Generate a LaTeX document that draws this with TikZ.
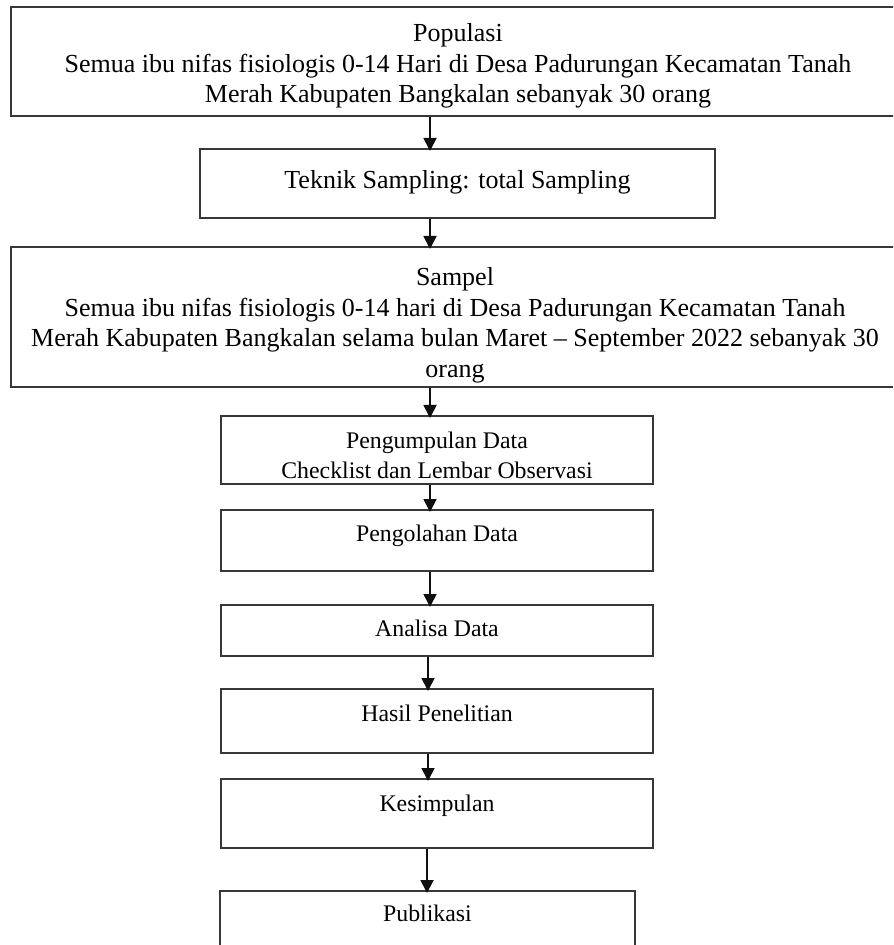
\documentclass[tikz,border=0pt]{standalone}
\usepackage{fontspec}
\setmainfont{Liberation Serif}
\usetikzlibrary{arrows.meta}
\definecolor{boxLine}{RGB}{55,55,55}
\definecolor{arrowInk}{RGB}{15,15,15}
\newcommand{\bigtxt}{\fontsize{13}{15.3}\selectfont}
\newcommand{\smalltxt}{\fontsize{11.9}{15}\selectfont}

\begin{document}
\begin{tikzpicture}[x=0.5pt,y=-0.5pt,
  flowbox/.style={draw=boxLine,line width=1pt,inner sep=0pt,fill=white},
  flowtext/.style={anchor=north,align=center,inner sep=0pt},
  flowarrow/.style={draw=arrowInk,line width=0.9pt,shorten >=-1.5pt,-{Triangle[length=6.5pt,width=6.5pt]}}]
  \useasboundingbox (0,0) rectangle (893,945);
  \clip (0,0) rectangle (893,945);
  \fill[white] (0,0) rectangle (893,945);
  % boxes: name/left/top/right/bottom in px
  \foreach \nm/\xa/\ya/\xb/\yb in {pop/11/7/905/116,tek/200/149/715/218,sam/11/247/899/387,
      kum/221/416/653/484,olah/221/510/653/571,ana/221/605/653/656,
      has/221/689/653/753,kes/221/779/653/848,pub/220/891/635/965}{
    \pgfmathsetmacro{\cx}{(\xa+\xb)/2}
    \pgfmathsetmacro{\cy}{(\ya+\yb)/2}
    \pgfmathsetmacro{\bw}{(\xb-\xa)/2}
    \pgfmathsetmacro{\bh}{(\yb-\ya)/2}
    \node[flowbox,minimum width=\bw pt,minimum height=\bh pt] (\nm) at (\cx,\cy) {};
  }
  \node[flowtext,font=\bigtxt] (pop-t) at ([yshift=-8.5pt]pop.north) {Populasi\\Semua ibu nifas fisiologis 0-14 Hari di Desa Padurungan Kecamatan Tanah\\Merah Kabupaten Bangkalan sebanyak 30 orang};
  \node[flowtext,font=\bigtxt] (tek-t) at ([yshift=-11pt]tek.north) {Teknik Sampling: total Sampling};
  \node[flowtext,font=\bigtxt] (sam-t) at ([yshift=-10.5pt]sam.north) {Sampel\\Semua ibu nifas fisiologis 0-14 hari di Desa Padurungan Kecamatan Tanah\\Merah Kabupaten Bangkalan selama bulan Maret – September 2022 sebanyak 30\\orang};
  \node[flowtext,font=\smalltxt] (kum-t) at ([yshift=-8.5pt]kum.north) {Pengumpulan Data\\Checklist dan Lembar Observasi};
  \node[flowtext,font=\smalltxt] (olah-t) at ([yshift=-8pt]olah.north) {Pengolahan Data};
  \node[flowtext,font=\smalltxt] (ana-t) at ([yshift=-8pt]ana.north) {Analisa Data};
  \node[flowtext,font=\smalltxt] (has-t) at ([yshift=-8.5pt]has.north) {Hasil Penelitian};
  \node[flowtext,font=\smalltxt] (kes-t) at ([yshift=-8.5pt]kes.north) {Kesimpulan};
  \node[flowtext,font=\smalltxt] (pub-t) at ([yshift=-7.5pt]pub.north) {Publikasi};
  % connectors
  \foreach \a/\b/\x in {pop/tek/430,tek/sam/430,sam/kum/430,kum/olah/430,
      olah/ana/430,ana/has/428,has/kes/428,kes/pub/427}{
    \coordinate (ax) at (\x,0);
    \draw[flowarrow] (\a.south -| ax) -- (\b.north -| ax);
  }
\end{tikzpicture}
\end{document}
